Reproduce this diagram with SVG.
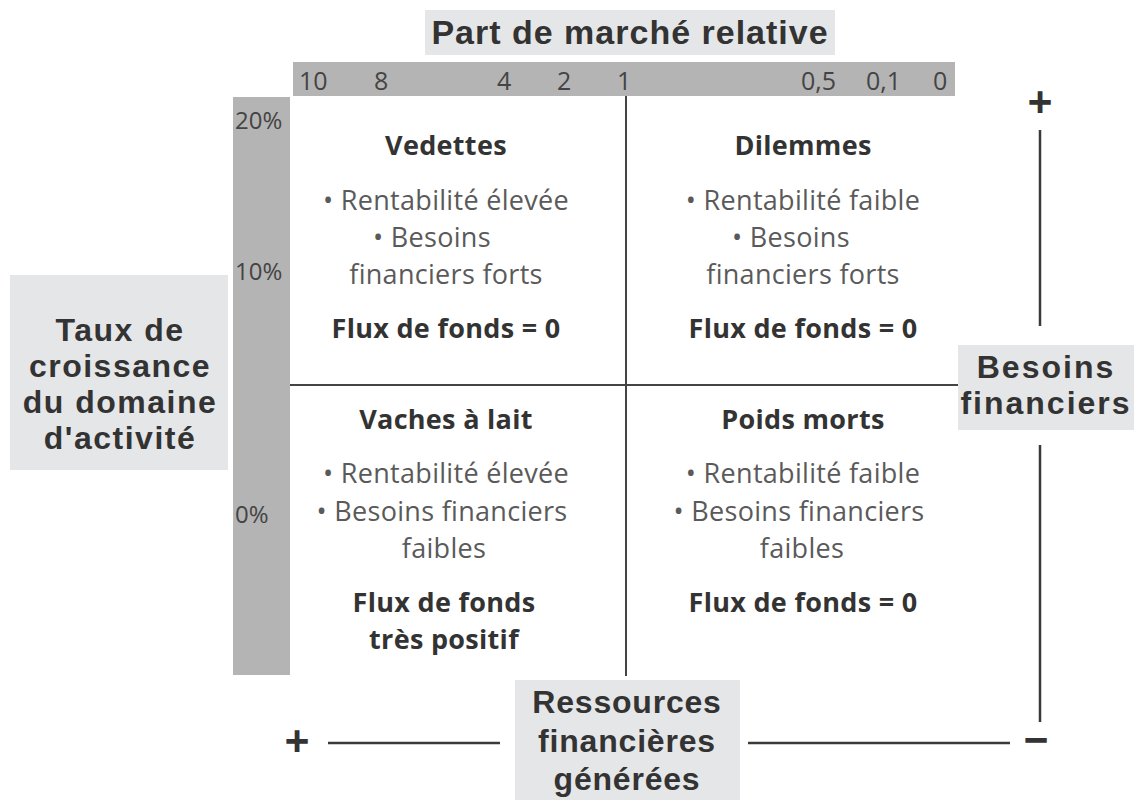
<svg xmlns="http://www.w3.org/2000/svg" width="1134" height="800" viewBox="0 0 1134 800">
  <style>
    .hd { font-family: "Open Sans", "Noto Sans", sans-serif; font-weight: 700; fill: #333; text-anchor: middle; }
    .ttl { font-family: "Liberation Sans", Arial, sans-serif; font-weight: 700; fill: #333; text-anchor: middle; }
    .tx { font-family: "Open Sans", "Noto Sans", sans-serif; font-weight: 400; fill: #5a5a5a; text-anchor: middle; letter-spacing: 0.3px; }
    .sc { font-family: "Open Sans", "Noto Sans", sans-serif; font-weight: 400; fill: #444; }
    .lbl { fill: #e5e6e8; }
    .bar { fill: #b4b4b4; }
    .ax { stroke: #3a3a3a; stroke-width: 2.5; fill: none; }
    .grid { stroke: #444; stroke-width: 2; fill: none; }
  </style>
  <rect width="1134" height="800" fill="#fff"/>

  <!-- horizontal scale: relative market share -->
  <g id="title-top">
    <rect class="lbl" x="425" y="10" width="410" height="45"/>
    <text class="ttl" x="630" y="44" font-size="34" letter-spacing="1">Part de marché relative</text>
  </g>
  <g id="scale-x">
    <rect class="bar" x="293" y="62" width="662" height="34"/>
    <g class="sc" font-size="25">
      <text x="299" y="90">10</text>
      <text x="374" y="90">8</text>
      <text x="497" y="90">4</text>
      <text x="557" y="90">2</text>
      <text x="617" y="90">1</text>
      <text x="801" y="90">0,5</text>
      <text x="866" y="90">0,1</text>
      <text x="933" y="90">0</text>
    </g>
  </g>

  <!-- vertical scale: growth rate -->
  <g id="scale-y">
    <rect class="bar" x="233" y="97" width="57" height="578"/>
    <g class="sc" font-size="24">
      <text x="235" y="129">20%</text>
      <text x="235" y="280">10%</text>
      <text x="235" y="523">0%</text>
    </g>
  </g>
  <g id="title-left">
    <rect class="lbl" x="10" y="275" width="218" height="195"/>
    <g class="ttl" font-size="32" letter-spacing="1.5">
      <text x="120" y="341">Taux de</text>
      <text x="120" y="377">croissance</text>
      <text x="120" y="413">du domaine</text>
      <text x="120" y="449">d'activité</text>
    </g>
  </g>

  <!-- connectors: quadrant dividers and resource/need axes -->
  <g id="connectors">
    <line class="grid" x1="626" y1="96" x2="626" y2="676"/>
    <line class="grid" x1="290" y1="385" x2="958" y2="385"/>
    <line class="ax" x1="1040" y1="130" x2="1040" y2="326"/>
    <line class="ax" x1="1040" y1="445" x2="1040" y2="722"/>
    <line class="ax" x1="328" y1="743" x2="500" y2="743"/>
    <line class="ax" x1="748" y1="743" x2="1010" y2="743"/>
  </g>

  <g id="sign-plus-top"><text class="hd" x="1040" y="118" font-size="44">+</text></g>
  <g id="sign-minus-right"><text class="hd" x="1036" y="756" font-size="44">−</text></g>
  <g id="sign-plus-left"><text class="hd" x="297" y="757" font-size="44">+</text></g>

  <g id="title-right">
    <rect class="lbl" x="958" y="345" width="176" height="85"/>
    <g class="ttl" font-size="32" letter-spacing="2">
      <text x="1046" y="378">Besoins</text>
      <text x="1046" y="414">financiers</text>
    </g>
  </g>
  <g id="title-bottom">
    <rect class="lbl" x="515" y="680" width="225" height="120"/>
    <g class="ttl" font-size="32" letter-spacing="0.8">
      <text x="627" y="713">Ressources</text>
      <text x="627" y="752">financières</text>
      <text x="627" y="790">générées</text>
    </g>
  </g>

  <!-- quadrants -->
  <g id="q-vedettes">
    <text class="hd" x="446" y="155" font-size="27" letter-spacing="0.3">Vedettes</text>
    <g class="tx" font-size="27">
      <text x="446" y="210">• Rentabilité élevée</text>
      <text x="432" y="247">• Besoins</text>
      <text x="446" y="284">financiers forts</text>
    </g>
    <text class="hd" x="446" y="338" font-size="27" letter-spacing="0.3">Flux de fonds = 0</text>
  </g>
  <g id="q-dilemmes">
    <text class="hd" x="803" y="155" font-size="27" letter-spacing="0.3">Dilemmes</text>
    <g class="tx" font-size="27">
      <text x="803" y="210">• Rentabilité faible</text>
      <text x="791" y="247">• Besoins</text>
      <text x="803" y="284">financiers forts</text>
    </g>
    <text class="hd" x="803" y="338" font-size="27" letter-spacing="0.3">Flux de fonds = 0</text>
  </g>
  <g id="q-vaches">
    <text class="hd" x="446" y="429" font-size="27" letter-spacing="0.3">Vaches à lait</text>
    <g class="tx" font-size="27">
      <text x="446" y="483">• Rentabilité élevée</text>
      <text x="442" y="521">• Besoins financiers</text>
      <text x="444" y="558">faibles</text>
    </g>
    <text class="hd" x="444" y="612" font-size="27" letter-spacing="0.3">Flux de fonds</text>
    <text class="hd" x="444" y="649" font-size="27" letter-spacing="0.3">très positif</text>
  </g>
  <g id="q-poids">
    <text class="hd" x="803" y="429" font-size="27" letter-spacing="0.3">Poids morts</text>
    <g class="tx" font-size="27">
      <text x="803" y="483">• Rentabilité faible</text>
      <text x="799" y="521">• Besoins financiers</text>
      <text x="802" y="558">faibles</text>
    </g>
    <text class="hd" x="803" y="612" font-size="27" letter-spacing="0.3">Flux de fonds = 0</text>
  </g>
</svg>
